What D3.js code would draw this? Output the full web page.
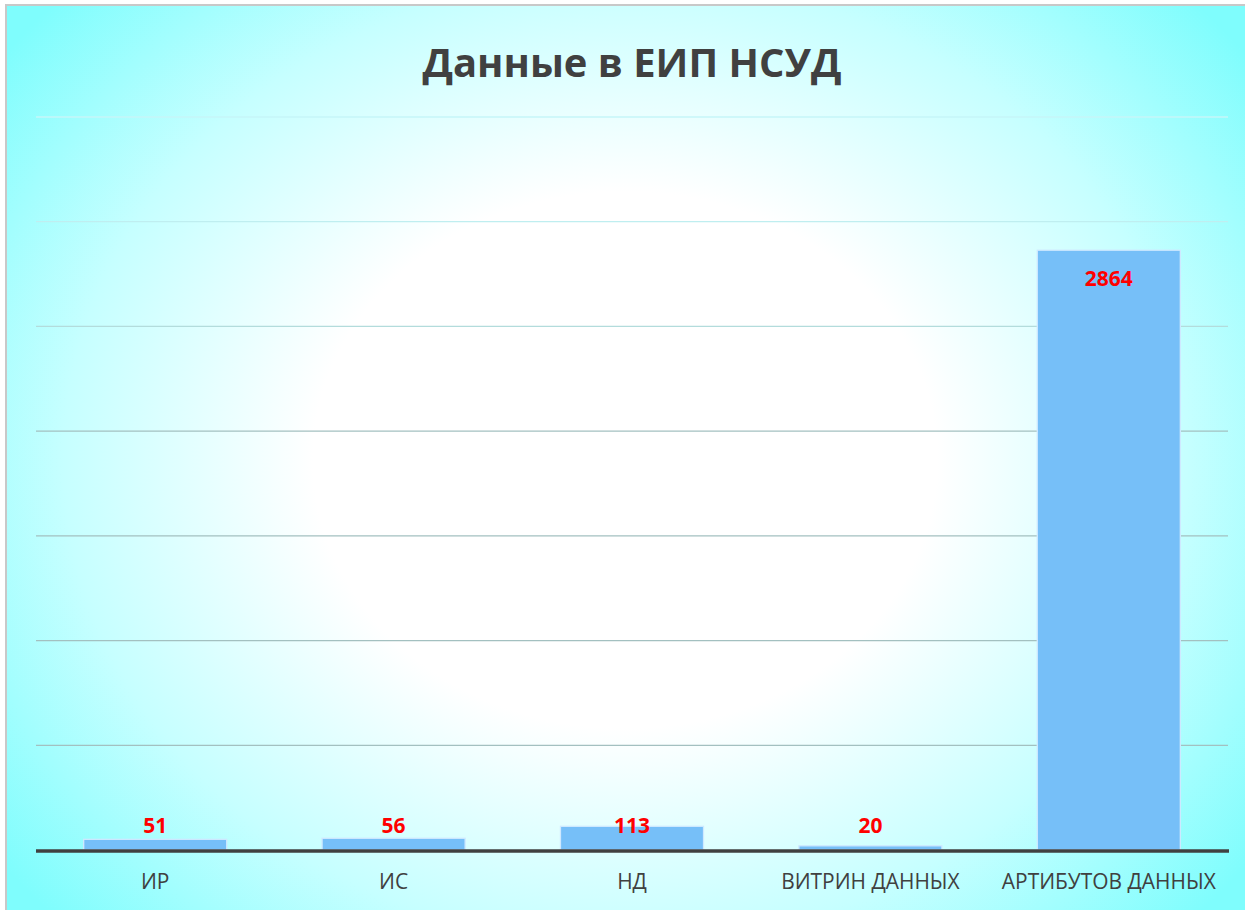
<!DOCTYPE html>
<html>
<head>
<meta charset="utf-8">
<script src="https://cdn.jsdelivr.net/npm/d3@7"></script>
<style>
  html, body { margin: 0; padding: 0; background: #ffffff; }
  svg { display: block; }
</style>
</head>
<body>
<script>
const title = "Данные в ЕИП НСУД";
const categories = ["ИР", "ИС", "НД", "ВИТРИН ДАННЫХ", "АРТИБУТОВ ДАННЫХ"];
const values = [51, 56, 113, 20, 2864];
const yTicks = [0, 500, 1000, 1500, 2000, 2500, 3000, 3500];

const W = 1245, H = 910;
const svg = d3.select("body").append("svg").attr("width", W).attr("height", H);
const defs = svg.append("defs");

const bg = defs.append("radialGradient").attr("id", "bg")
  .attr("gradientUnits", "userSpaceOnUse")
  .attr("cx", 625).attr("cy", 460).attr("r", 780)
  .attr("gradientTransform", "translate(625,460) scale(1,0.86) translate(-625,-460)");
bg.append("stop").attr("offset", 0).attr("stop-color", "#ffffff");
bg.append("stop").attr("offset", 0.4).attr("stop-color", "#ffffff");
bg.append("stop").attr("offset", 0.72).attr("stop-color", "#c6ffff");
bg.append("stop").attr("offset", 1).attr("stop-color", "#7ffdfd");

// background + border (border visible on top and left)
svg.append("rect").attr("x", 6).attr("y", 5).attr("width", W).attr("height", H)
  .attr("fill", "url(#bg)").attr("stroke", "#c8c8c8").attr("stroke-width", 2);

const x = d3.scaleBand().domain(categories).range([36, 1228]).paddingInner(0.4).paddingOuter(0.2);
const y = d3.scaleLinear().domain([0, 3500]).range([850, 117]);

// gridlines: colour shifts from pale cyan (top) to grey-teal (lower)
const gridColor = d3.scaleLinear().domain([117, 222, 327, 431]).range(["#c6f6f8", "#bfeef0", "#b3dcdc", "#a3c0c0"]).clamp(true);
svg.append("g").selectAll("line").data(yTicks.filter(t => t > 0)).join("line")
  .attr("x1", 36).attr("x2", 1228)
  .attr("y1", d => y(d)).attr("y2", d => y(d))
  .attr("stroke", d => gridColor(y(d))).attr("stroke-width", 1.3);

// bars
svg.append("g").selectAll("rect").data(values).join("rect")
  .attr("x", (d, i) => x(categories[i]))
  .attr("width", x.bandwidth())
  .attr("y", d => y(d))
  .attr("height", d => y(0) - y(d))
  .attr("fill", "#76bff8")
  .attr("stroke", "#cfe9ff").attr("stroke-width", 1.3);

// axis line
svg.append("line").attr("x1", 36).attr("x2", 1229).attr("y1", 851).attr("y2", 851)
  .attr("stroke", "#404040").attr("stroke-width", 3.6);

// category labels
const catLabels = svg.append("g").selectAll("text").data(categories).join("text")
  .attr("x", d => x(d) + x.bandwidth() / 2)
  .attr("y", 889)
  .attr("text-anchor", "middle")
  .attr("font-family", "'Open Sans', 'Noto Sans', sans-serif")
  .attr("font-size", 20)
  .attr("fill", "#404040")
  .text(d => d);

// data labels
const dl = svg.append("g").selectAll("text").data(values).join("text")
  .attr("x", (d, i) => x(categories[i]) + x.bandwidth() / 2)
  .attr("y", d => Math.min(y(d) + 36, y(0) - 17))
  .attr("text-anchor", "middle")
  .attr("font-family", "'Open Sans', 'Noto Sans', sans-serif")
  .attr("font-weight", "bold")
  .attr("font-size", 19)
  .attr("fill", "#ff0000")
  .text(d => d);

// title
const tt = svg.append("text")
  .attr("x", 632).attr("y", 77)
  .attr("text-anchor", "middle")
  .attr("font-family", "'Open Sans', 'Noto Sans', sans-serif")
  .attr("font-weight", "bold")
  .attr("font-size", 44)
  .attr("fill", "#404040")
  .text(title);

// fit font sizes to the reference's measured text widths
function fit(sel, node, target) {
  const fs = +sel.attr("font-size");
  const w = node.getComputedTextLength();
  if (w > 0) sel.attr("font-size", (fs * target / w).toFixed(2));
}
fit(tt, tt.node(), 419);
fit(catLabels, catLabels.filter((d, i) => i === 4).node(), 214);
fit(dl, dl.filter((d, i) => i === 4).node(), 48);
</script>
</body>
</html>
